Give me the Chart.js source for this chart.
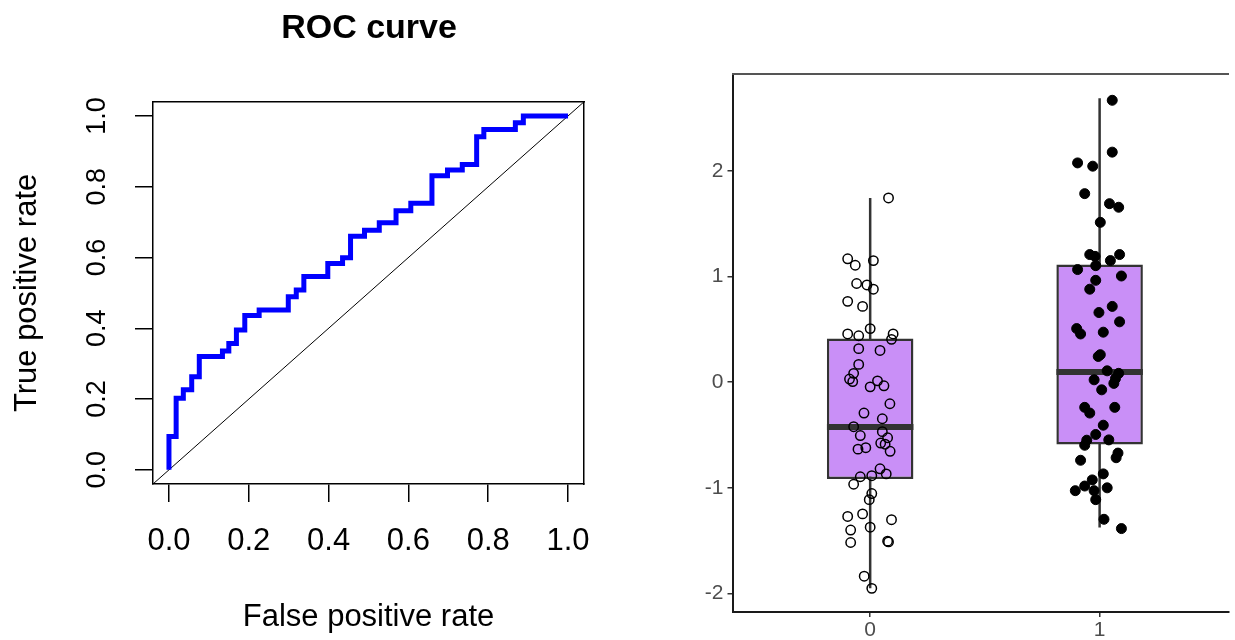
<!DOCTYPE html>
<html>
<head>
<meta charset="utf-8">
<script src="https://cdn.jsdelivr.net/npm/chart.js@4.4.1/dist/chart.umd.min.js"></script>
<style>
  html, body { margin: 0; padding: 0; background: #fff; overflow: hidden; }
  #wrap { position: relative; width: 1235px; height: 640px; }
  #rocChart { position: absolute; left: 0; top: 0; }
  #boxChart { position: absolute; left: 620px; top: 0; }
</style>
</head>
<body>
<div id="wrap">
  <canvas id="boxChart" width="615" height="640"></canvas>
  <canvas id="rocChart" width="738" height="640"></canvas>
</div>
<script>
// ROC curve vertices (false positive rate / true positive rate)
const rocFpr = [0, 0, 0.018, 0.018, 0.036, 0.036, 0.057, 0.057, 0.076, 0.076, 0.134, 0.134, 0.150, 0.150,
  0.169, 0.169, 0.190, 0.190, 0.226, 0.226, 0.299, 0.299, 0.319, 0.319, 0.338, 0.338, 0.398, 0.398,
  0.435, 0.435, 0.455, 0.455, 0.490, 0.490, 0.527, 0.527, 0.569, 0.569, 0.606, 0.606, 0.659, 0.659,
  0.698, 0.698, 0.735, 0.735, 0.771, 0.771, 0.789, 0.789, 0.868, 0.868, 0.888, 0.888, 1.0];
const rocTpr = [0, 0.094, 0.094, 0.202, 0.202, 0.226, 0.226, 0.263, 0.263, 0.320, 0.320, 0.336, 0.336, 0.357,
  0.357, 0.395, 0.395, 0.436, 0.436, 0.452, 0.452, 0.489, 0.489, 0.508, 0.508, 0.546, 0.546, 0.583,
  0.583, 0.599, 0.599, 0.660, 0.660, 0.677, 0.677, 0.698, 0.698, 0.732, 0.732, 0.753, 0.753, 0.831,
  0.831, 0.847, 0.847, 0.863, 0.863, 0.941, 0.941, 0.962, 0.962, 0.981, 0.981, 1.0, 1.0];
const rocTicks = [0, 0.2, 0.4, 0.6, 0.8, 1.0];

// Boxplot groups
const groups = ['0', '1'];
const boxQ1 = [-0.916, -0.590];
const boxMedian = [-0.424, 0.098];
const boxQ3 = [0.413, 1.115];
const whiskerLow = [-1.952, -1.376];
const whiskerHigh = [1.745, 2.690];
const boxYTicks = [-2, -1, 0, 1, 2];

// jittered points: horizontal offset from group centre, value
const g0Offset = [0.080, -0.098, -0.065, 0.014, -0.059, -0.014, 0.014, -0.098, -0.033, 0, -0.098, -0.050, 0.100,
  0.093, -0.050, 0.043, -0.050, -0.072, -0.090, -0.076, 0, 0.032, 0.060, 0.086, -0.027, 0.053, -0.072, 0.053,
  -0.043, 0.076, 0.046, 0.065, -0.053, -0.019, 0.087, 0.043, 0.070, -0.043, 0.007, -0.072, 0.007, -0.004,
  -0.033, -0.098, 0.093, 0, -0.085, -0.085, 0.076, 0.080, -0.026, 0.007];
const g0Value = [1.745, 1.169, 1.108, 1.152, 0.935, 0.921, 0.881, 0.766, 0.718, 0.508, 0.457, 0.440, 0.457,
  0.406, 0.318, 0.301, 0.169, 0.084, 0.030, 0.006, -0.044, 0.013, -0.034, -0.204, -0.292, -0.346, -0.421, -0.468,
  -0.505, -0.526, -0.576, -0.587, -0.634, -0.620, -0.654, -0.820, -0.868, -0.895, -0.885, -0.966, -1.054, -1.112,
  -1.247, -1.271, -1.302, -1.373, -1.400, -1.518, -1.505, -1.512, -1.837, -1.952];
const g1Offset = [0.055, 0.055, -0.096, -0.030, -0.065, 0.043, 0.083, 0.003, -0.043, -0.020, 0.087, 0.047, -0.017,
  -0.096, 0.095, -0.017, -0.043, 0.055, -0.003, 0.087, -0.100, -0.083, 0.016, -0.006, 0.003, 0.033, 0.083, -0.024,
  0.062, 0.069, 0.009, -0.065, -0.043, 0.066, 0.016, -0.017, -0.056, -0.065, 0.040, 0.080, 0.072, -0.083, 0.016,
  -0.032, -0.065, -0.106, 0.033, -0.024, -0.017, 0.019, 0.095];
const g1Value = [2.670, 2.179, 2.077, 2.046, 1.786, 1.691, 1.657, 1.514, 1.209, 1.192, 1.209, 1.152, 1.104,
  1.067, 1.006, 0.965, 0.881, 0.718, 0.660, 0.572, 0.508, 0.457, 0.474, 0.244, 0.261, 0.108, 0.084, 0.023,
  -0.011, 0.034, -0.072, -0.238, -0.292, -0.238, -0.407, -0.495, -0.549, -0.597, -0.546, -0.671, -0.715, -0.739,
  -0.868, -0.925, -0.983, -1.027, -1.000, -1.027, -1.112, -1.298, -1.386];

Chart.defaults.font.family = '"Liberation Sans", Arial, Helvetica, sans-serif';
Chart.defaults.color = '#000';

// ---- left: ROC curve ----
const ROC_MIN = -0.04, ROC_MAX = 1.04;

function frameAxis(position, size) {
  return {
    type: 'linear', position: position, display: true, min: 0, max: 1,
    ticks: { display: false },
    grid: { drawOnChartArea: false, drawTicks: false },
    border: { display: true, color: '#000', width: 1.5 },
    afterFit: s => { if (s.isHorizontal()) s.height = size; else s.width = size; }
  };
}

new Chart(document.getElementById('rocChart'), {
  type: 'line',
  data: {
    datasets: [
      {
        label: 'ROC',
        data: rocFpr.map((x, i) => ({ x: x, y: rocTpr[i] })),
        borderColor: '#0000FF', borderWidth: 5, pointRadius: 0, tension: 0,
        borderJoinStyle: 'miter', borderCapStyle: 'butt', order: 1
      },
      {
        label: 'chance',
        data: [{ x: ROC_MIN, y: ROC_MIN }, { x: ROC_MAX, y: ROC_MAX }],
        borderColor: '#000', borderWidth: 1, pointRadius: 0, order: 2
      }
    ]
  },
  options: {
    responsive: false, animation: false, events: [],
    layout: { padding: 0 },
    plugins: {
      legend: { display: false }, tooltip: { enabled: false },
      title: {
        display: true, text: 'ROC curve', color: '#000',
        font: { size: 34, weight: 'bold' }, padding: { top: 8, bottom: 53 }
      }
    },
    scales: {
      x: {
        type: 'linear', position: 'bottom', min: ROC_MIN, max: ROC_MAX,
        afterBuildTicks: s => { s.ticks = rocTicks.map(v => ({ value: v })); },
        afterFit: s => { s.height = 156; },
        ticks: { color: '#000', font: { size: 31 }, padding: 21, maxRotation: 0, callback: v => Number(v).toFixed(1) },
        grid: { drawOnChartArea: false, tickLength: 18, color: '#000', lineWidth: 1.5 },
        border: { display: true, color: '#000', width: 1.5 },
        title: { display: true, text: 'False positive rate', color: '#000', font: { size: 31 }, padding: { top: 0, bottom: 4 } }
      },
      y: {
        type: 'linear', position: 'left', min: ROC_MIN, max: ROC_MAX,
        afterBuildTicks: s => { s.ticks = rocTicks.map(v => ({ value: v })); },
        afterFit: s => { s.width = 153; },
        ticks: {
          color: '#000', font: { size: 27 }, padding: 19, minRotation: 90, maxRotation: 90,
          crossAlign: 'center', callback: v => Number(v).toFixed(1)
        },
        grid: { drawOnChartArea: false, tickLength: 18, color: '#000', lineWidth: 1.5 },
        border: { display: true, color: '#000', width: 1.5 },
        title: { display: true, text: 'True positive rate', color: '#000', font: { size: 31 }, padding: { top: 9, bottom: 0 } }
      },
      xTop: frameAxis('top', 0),
      yRight: frameAxis('right', 154)
    }
  }
});

// ---- right: boxplot with jittered points ----
const BOX_WIDTH = 0.377;
const BOX_X_MIN = 0.4, BOX_X_MAX = 2.563;
const BOX_Y_MIN = -2.176, BOX_Y_MAX = 2.919;
const boxLine = '#333333';

const boxDatasets = [];
groups.forEach((g, i) => {
  boxDatasets.push({
    type: 'line', label: 'whisker ' + g,
    data: [{ x: i + 1, y: whiskerLow[i] }, { x: i + 1, y: whiskerHigh[i] }],
    borderColor: boxLine, borderWidth: 2.5, pointRadius: 0, order: 4
  });
  boxDatasets.push({
    type: 'line', label: 'median ' + g,
    data: [{ x: i + 1 - BOX_WIDTH / 2, y: boxMedian[i] }, { x: i + 1 + BOX_WIDTH / 2, y: boxMedian[i] }],
    borderColor: boxLine, borderWidth: 6, borderCapStyle: 'butt', pointRadius: 0, order: 2
  });
});
boxDatasets.push({
  type: 'bar', label: 'box',
  data: groups.map((g, i) => ({ x: i + 1, y: [boxQ1[i], boxQ3[i]] })),
  backgroundColor: '#C98FF7', borderColor: boxLine, borderWidth: 2.5, borderSkipped: false,
  barPercentage: BOX_WIDTH, categoryPercentage: 1, grouped: false, order: 3
});
boxDatasets.push({
  type: 'scatter', label: '0',
  data: g0Offset.map((o, i) => ({ x: 1 + o, y: g0Value[i] })),
  pointStyle: 'circle', pointRadius: 4.7, pointBorderWidth: 1.5,
  pointBorderColor: '#000', pointBackgroundColor: 'rgba(0,0,0,0)', showLine: false, order: 1
});
boxDatasets.push({
  type: 'scatter', label: '1',
  data: g1Offset.map((o, i) => ({ x: 2 + o, y: g1Value[i] })),
  pointStyle: 'circle', pointRadius: 5, pointBorderWidth: 1,
  pointBorderColor: '#000', pointBackgroundColor: '#000', showLine: false, order: 1
});

new Chart(document.getElementById('boxChart'), {
  type: 'line',
  data: { datasets: boxDatasets },
  options: {
    responsive: false, animation: false, events: [],
    layout: { padding: 0 },
    plugins: { legend: { display: false }, tooltip: { enabled: false } },
    scales: {
      x: {
        type: 'linear', position: 'bottom', min: BOX_X_MIN, max: BOX_X_MAX, offset: false,
        afterBuildTicks: s => { s.ticks = groups.map((g, i) => ({ value: i + 1 })); },
        afterFit: s => { s.height = 28; },
        ticks: { color: '#4d4d4d', font: { size: 21 }, padding: 1, maxRotation: 0, callback: v => groups[Math.round(v) - 1] },
        grid: { drawOnChartArea: false, offset: false, tickLength: 5, color: boxLine, lineWidth: 1.5 },
        border: { display: true, color: '#1a1a1a', width: 2 }
      },
      y: {
        type: 'linear', position: 'left', min: BOX_Y_MIN, max: BOX_Y_MAX, offset: false,
        afterBuildTicks: s => { s.ticks = boxYTicks.map(v => ({ value: v })); },
        afterFit: s => { s.width = 112.5; },
        ticks: { color: '#4d4d4d', font: { size: 21 }, padding: 4 },
        grid: { drawOnChartArea: false, tickLength: 5, color: boxLine, lineWidth: 1.5 },
        border: { display: true, color: '#1a1a1a', width: 2 }
      },
      xTop: {
        type: 'linear', position: 'top', display: true, min: 0, max: 1,
        ticks: { display: false },
        grid: { drawOnChartArea: false, drawTicks: false },
        border: { display: true, color: '#555', width: 2 },
        afterFit: s => { s.height = 74; }
      }
    }
  }
});
</script>
</body>
</html>
